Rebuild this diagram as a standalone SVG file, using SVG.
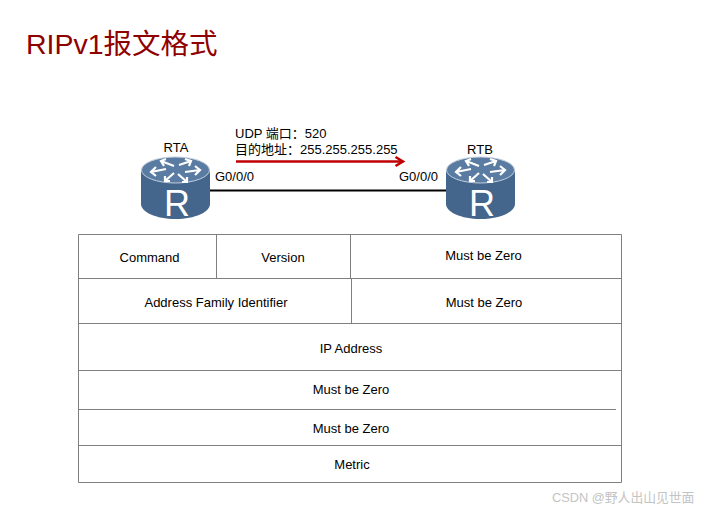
<svg xmlns="http://www.w3.org/2000/svg" width="705" height="511" viewBox="0 0 705 511">
<style>
text{font-family:"Liberation Sans","Noto Sans CJK SC",sans-serif;font-size:13px;fill:#000}
.c{text-anchor:middle}
.g{stroke:#7f7f7f;stroke-width:1;fill:none}
.rb{fill:#44658c}
.rt{fill:#5a7ca3;stroke:#c4d0de;stroke-width:1}
.ar{fill:none;stroke:#fff;stroke-width:2.200}
</style>
<defs>
<g id="router">
<path class="rb" d="M0 12V47C0 55 15 62 34.500 62S69 55 69 47V12Z"/>
<ellipse class="rt" cx="34.500" cy="13" rx="34" ry="13"/>
<g class="ar">
<path d="M20 4L33 9M25 2L20 4L23 9"/>
<path d="M50 4L38 8M44 2L50 4L48 9"/>
<path d="M10 15L25 12M15 10L10 15L15 19"/>
<path d="M59 13L44 15M54 9L59 13L54 18"/>
<path d="M24 24L33 16M24 19L24 24L29 24"/>
<path d="M46 25L37 17M46 20L46 25L41 25"/>
</g>
<text x="23" y="59" style="font-size:36px;fill:#fff">R</text>
</g>
</defs>
<text x="26" y="54" style="font-size:28.500px;fill:#8f0000">RIPv1报文格式</text>
<g id="connectors">
<line x1="209" y1="190.500" x2="447" y2="190.500" stroke="#000" stroke-width="2"/>
<path d="M236 161.500H402" stroke="#c00000" stroke-width="2.500" fill="none"/>
<path d="M395.500 157L403 161.500L395.500 166" stroke="#c00000" stroke-width="2.500" fill="none"/>
</g>
<g id="RTA"><use href="#router" x="141" y="157"/><text class="c" x="176" y="152">RTA</text><text x="215" y="181">G0/0/0</text></g>
<g id="RTB"><use href="#router" x="446" y="157"/><text class="c" x="480" y="154">RTB</text><text x="399" y="181">G0/0/0</text></g>
<g id="udp-label"><text x="235" y="138">UDP 端口：520</text><text x="235" y="154">目的地址：255.255.255.255</text></g>
<g id="table">
<path class="g" d="M78.500 234.500H621.500V482.500H78.500ZM78.500 278.500H621.500M78.500 323.500H621.500M78.500 370.500H621.500M78.500 409.500H616M78.500 445.500H621.500M216.500 234.500V278.500M350.500 234.500V278.500M351.500 278.500V323.500"/>
<text class="c" x="149.500" y="262">Command</text>
<text class="c" x="283" y="262">Version</text>
<text class="c" x="483.500" y="260">Must be Zero</text>
<text class="c" x="216" y="307">Address Family Identifier</text>
<text class="c" x="484" y="307">Must be Zero</text>
<text class="c" x="351" y="353">IP Address</text>
<text class="c" x="351" y="394">Must be Zero</text>
<text class="c" x="351" y="433">Must be Zero</text>
<text class="c" x="352" y="469">Metric</text>
</g>
<text x="552" y="502" style="font-size:12.800px;fill:#c4c4c4">CSDN @野人出山见世面</text>
</svg>
